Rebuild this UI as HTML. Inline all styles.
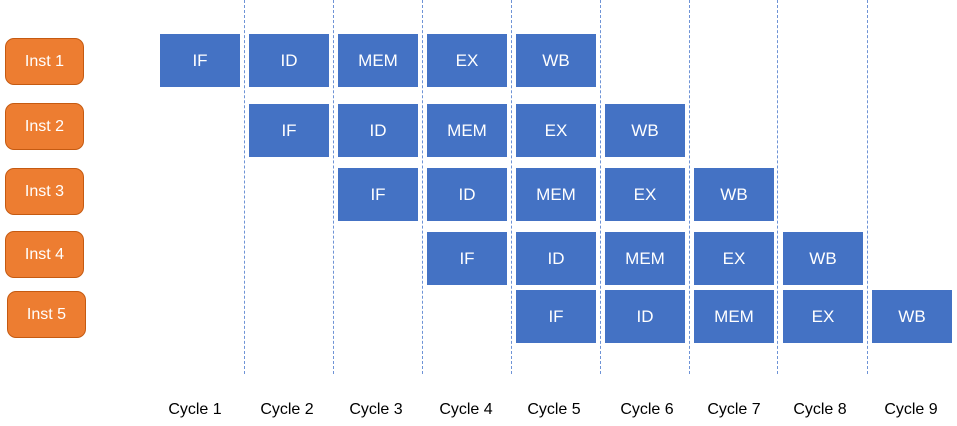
<!DOCTYPE html>
<html><head><meta charset="utf-8"><style>
body{margin:0;width:957px;height:426px;background:#fff;position:relative;overflow:hidden;font-family:"Liberation Sans",sans-serif}
.o{position:absolute;width:79px;height:47px;background:#ED7D31;border:1px solid #C55A11;border-radius:9px;color:#fff;font-size:16px;display:flex;align-items:center;justify-content:center;box-sizing:border-box}
.b{position:absolute;width:80px;height:53px;background:#4472C4;color:#fff;font-size:17px;display:flex;align-items:center;justify-content:center}
.l{position:absolute;top:0;height:374px;width:0;border-left:1px dashed #6E93D6}
.c{position:absolute;top:401px;width:80px;text-align:center;font-size:16px;color:#000}
</style></head><body>
<div class="l" style="left:244px"></div><div class="l" style="left:333px"></div><div class="l" style="left:422px"></div><div class="l" style="left:511px"></div><div class="l" style="left:600px"></div><div class="l" style="left:689px"></div><div class="l" style="left:777px"></div><div class="l" style="left:867px"></div>
<div class="o" style="left:5px;top:38px">Inst 1</div>
<div class="o" style="left:5px;top:103px">Inst 2</div>
<div class="o" style="left:5px;top:168px">Inst 3</div>
<div class="o" style="left:5px;top:231px">Inst 4</div>
<div class="o" style="left:7px;top:291px">Inst 5</div>
<div class="b" style="left:160px;top:34px">IF</div><div class="b" style="left:249px;top:34px">ID</div><div class="b" style="left:338px;top:34px">MEM</div><div class="b" style="left:427px;top:34px">EX</div><div class="b" style="left:516px;top:34px">WB</div>
<div class="b" style="left:249px;top:104px">IF</div><div class="b" style="left:338px;top:104px">ID</div><div class="b" style="left:427px;top:104px">MEM</div><div class="b" style="left:516px;top:104px">EX</div><div class="b" style="left:605px;top:104px">WB</div>
<div class="b" style="left:338px;top:168px">IF</div><div class="b" style="left:427px;top:168px">ID</div><div class="b" style="left:516px;top:168px">MEM</div><div class="b" style="left:605px;top:168px">EX</div><div class="b" style="left:694px;top:168px">WB</div>
<div class="b" style="left:427px;top:232px">IF</div><div class="b" style="left:516px;top:232px">ID</div><div class="b" style="left:605px;top:232px">MEM</div><div class="b" style="left:694px;top:232px">EX</div><div class="b" style="left:783px;top:232px">WB</div>
<div class="b" style="left:516px;top:290px">IF</div><div class="b" style="left:605px;top:290px">ID</div><div class="b" style="left:694px;top:290px">MEM</div><div class="b" style="left:783px;top:290px">EX</div><div class="b" style="left:872px;top:290px">WB</div>
<div class="c" style="left:155px">Cycle 1</div><div class="c" style="left:247px">Cycle 2</div><div class="c" style="left:336px">Cycle 3</div><div class="c" style="left:426px">Cycle 4</div><div class="c" style="left:514px">Cycle 5</div><div class="c" style="left:607px">Cycle 6</div><div class="c" style="left:694px">Cycle 7</div><div class="c" style="left:780px">Cycle 8</div><div class="c" style="left:871px">Cycle 9</div>
</body></html>
